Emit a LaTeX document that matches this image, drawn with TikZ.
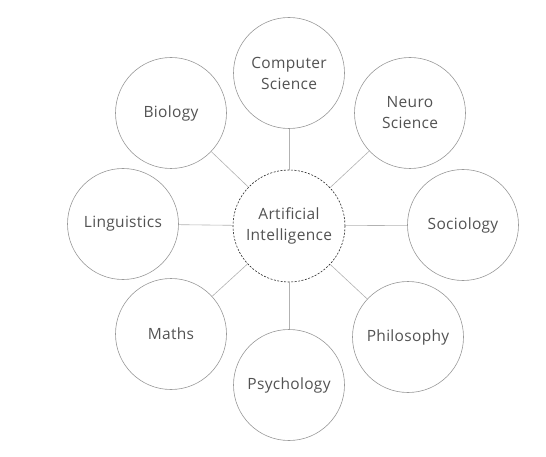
\documentclass[tikz,border=0pt]{standalone}
\usepackage{fontspec}
\setmainfont{Open Sans}[LetterSpace=2]
\begin{document}
\begin{tikzpicture}[x=1pt,y=-1pt,
  topic/.style={circle,draw=black!40,line width=0.6pt,minimum size=111pt,inner sep=0pt,align=center,text=black!68,font=\fontsize{15.5}{21}\selectfont},
  hub/.style={topic,draw=black!85,dashed,dash pattern=on 2pt off 1.5pt,minimum size=112pt},
  link/.style={draw=black!30,line width=0.6pt}]
\useasboundingbox (0,0) rectangle (546,457);
\node[hub] (ai) at (289,226) {Artificial\\Intelligence};
\node[topic] (cs) at (289,73) {Computer\\Science};
\node[topic] (ns) at (410,113) {Neuro\\Science};
\node[topic] (so) at (463,225) {Sociology};
\node[topic] (ph) at (408,337) {Philosophy};
\node[topic] (ps) at (289,385) {Psychology};
\node[topic] (ma) at (171,334) {Maths};
\node[topic] (li) at (123,224) {Linguistics};
\node[topic] (bi) at (171,113) {Biology};
\foreach \n in {cs,ns,so,ph,ps,ma,li,bi}
  \draw[link] (ai) -- (\n);
\end{tikzpicture}
\end{document}
